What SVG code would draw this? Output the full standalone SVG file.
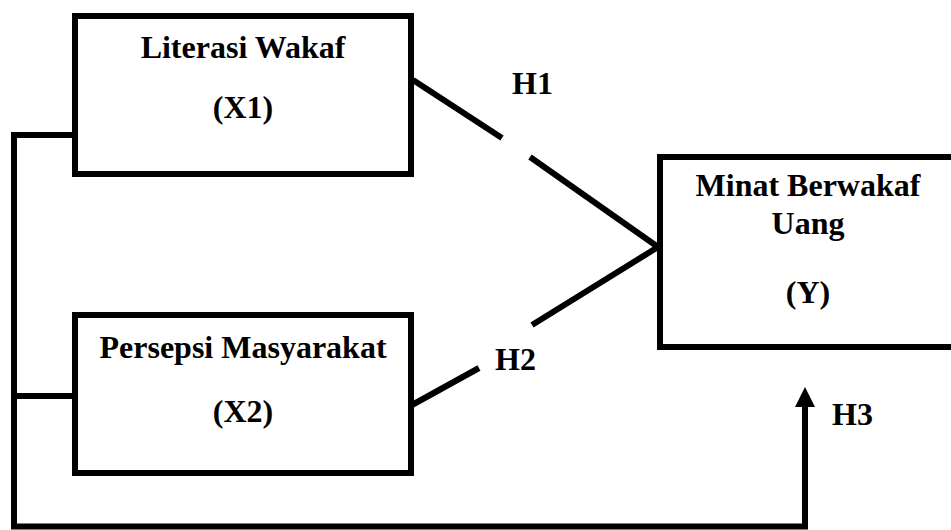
<svg xmlns="http://www.w3.org/2000/svg" width="951" height="530" viewBox="0 0 951 530">
  <style>
    .box { fill: #ffffff; stroke: #000000; stroke-width: 6; }
    .conn { fill: none; stroke: #000000; stroke-width: 6; stroke-linecap: butt; stroke-linejoin: miter; }
    text { font-family: 'Liberation Serif', 'Times New Roman', serif; font-weight: bold; font-size: 32px; fill: #000000; }
    .t { text-anchor: middle; }
  </style>
  <rect width="951" height="530" fill="#ffffff"/>
  <g id="connectors">
    <path class="conn" d="M72 135 H14 V526.5 H805 V404"/>
    <path class="conn" d="M11 396 H72"/>
    <polygon points="805,387 795,407 815,407" fill="#000000"/>
    <path class="conn" d="M413 80 L502 138"/>
    <path class="conn" d="M530 157 L658 247"/>
    <path class="conn" d="M658 247 L532 325"/>
    <path class="conn" d="M479 368 L412 405"/>
    <text x="512" y="94">H1</text>
    <text x="495" y="370">H2</text>
    <text x="832" y="425">H3</text>
  </g>
  <g id="x1">
    <rect class="box" x="75" y="16" width="336" height="158"/>
    <text class="t" x="243" y="58">Literasi Wakaf</text>
    <text class="t" x="243" y="118">(X1)</text>
  </g>
  <g id="x2">
    <rect class="box" x="75" y="315" width="336" height="158"/>
    <text class="t" x="243" y="358">Persepsi Masyarakat</text>
    <text class="t" x="243" y="422">(X2)</text>
  </g>
  <g id="y">
    <rect class="box" x="660" y="157" width="300" height="190"/>
    <text class="t" x="808" y="196">Minat Berwakaf</text>
    <text class="t" x="808" y="234">Uang</text>
    <text class="t" x="808" y="303">(Y)</text>
  </g>
</svg>
